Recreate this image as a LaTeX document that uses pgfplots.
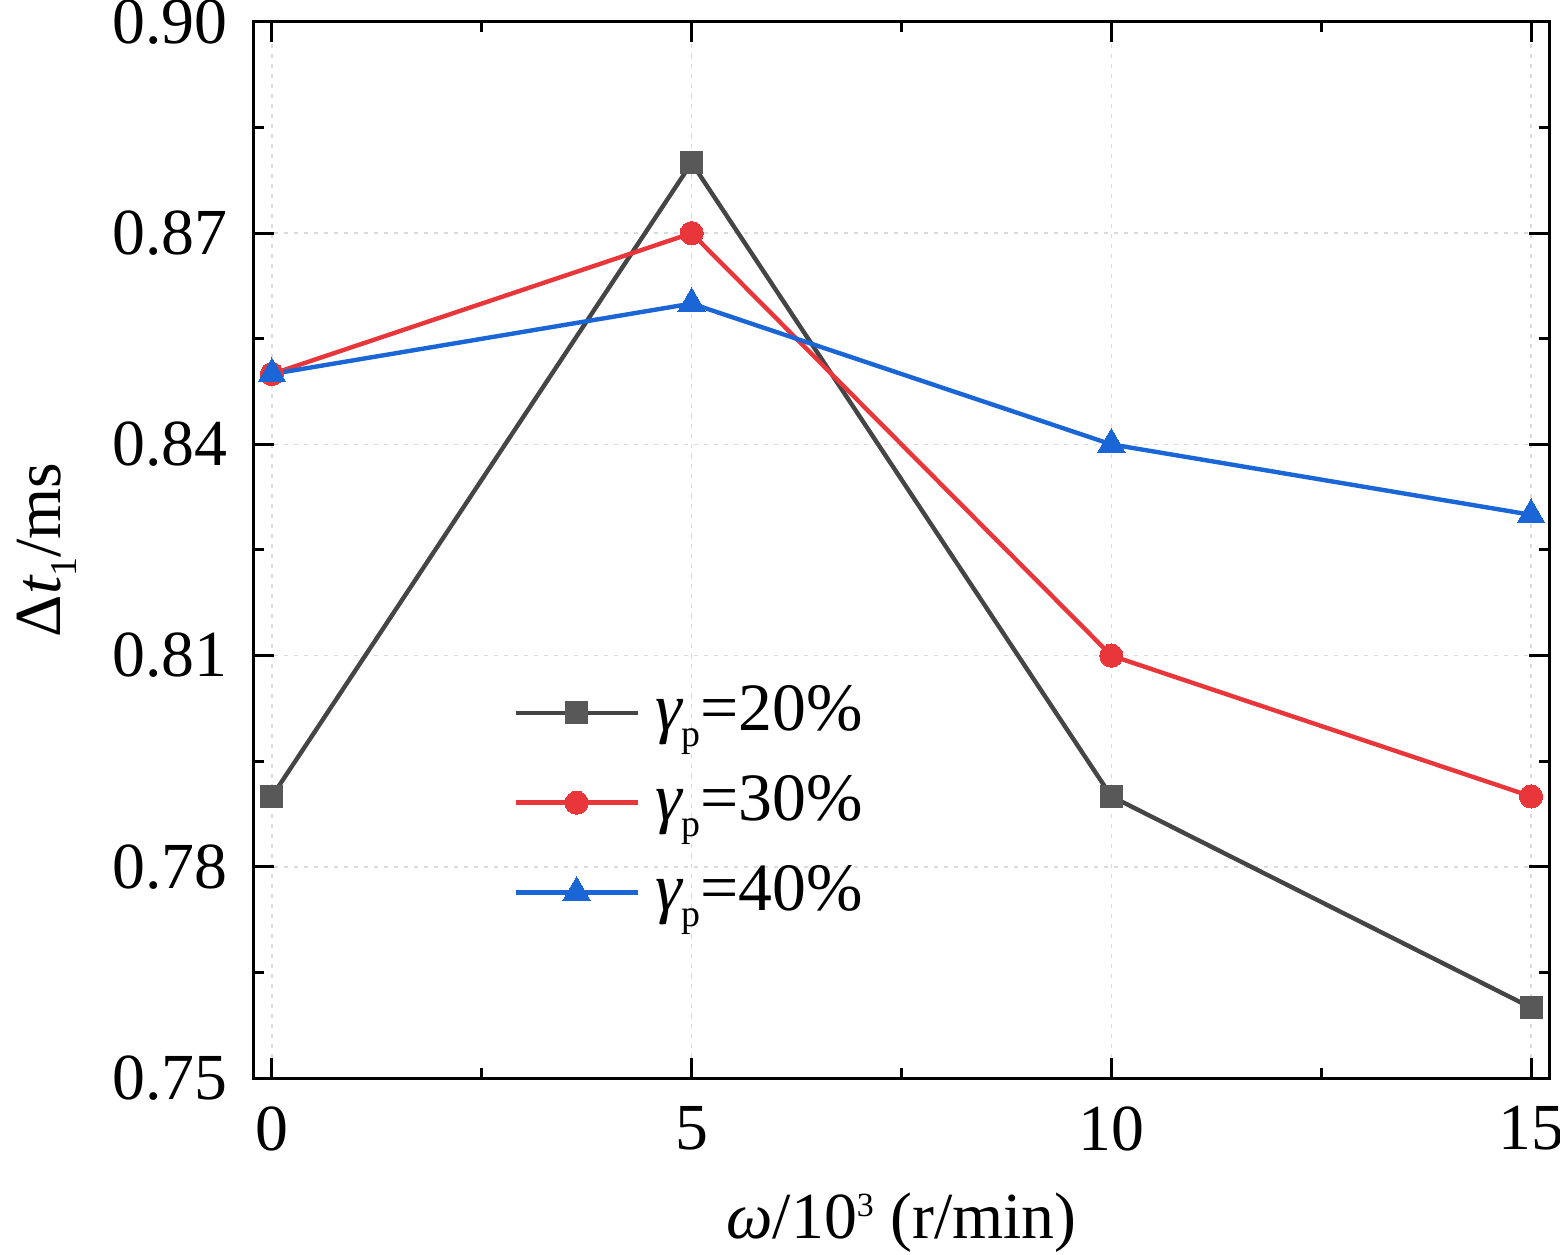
\documentclass[border=0pt]{standalone}
\usepackage{fontspec}
\setmainfont{Liberation Serif}
\usepackage{pgfplots}
\pgfplotsset{compat=1.18}
\definecolor{cgray}{HTML}{454545}
\definecolor{cred}{HTML}{E8363B}
\definecolor{cblue}{HTML}{1B66D6}
\definecolor{cgrid}{HTML}{DADADA}
\newcommand{\lsub}[1]{\raisebox{-8bp}{\fontsize{19}{20}\selectfont #1}}
\begin{document}
\fontsize{33}{40}\selectfont
\begin{tikzpicture}
\begin{axis}[
  scale only axis,
  width=647.5bp, height=528bp,
  at={(0,0)}, anchor=south west,
  xmin=-0.214, xmax=15.214,
  ymin=0.75, ymax=0.90,
  xtick={0,5,10,15},
  ytick={0.75,0.78,0.81,0.84,0.87,0.90},
  minor x tick num=1,
  minor y tick num=1,
  tick align=inside,
  major tick length=10bp,
  minor tick length=5bp,
  every tick/.style={line width=1.5bp, black},
  axis line style={line width=1.5bp, black},
  grid=major,
  major grid style={cgrid, dash pattern=on 2bp off 3bp, line width=0.8bp},
  xticklabel={\pgfmathprintnumber[assume math mode=true]{\tick}},
  yticklabel={\pgfmathprintnumber[fixed,fixed zerofill,precision=2,assume math mode=true]{\tick}},
  yticklabel style={font=\fontsize{33}{40}\selectfont, xshift=-2bp},
  xticklabel style={font=\fontsize{33}{40}\selectfont, yshift=-3bp},
  scaled y ticks=false,
  xlabel={{\itshape ω}/10\raisebox{11bp}{\fontsize{17}{18}\selectfont 3} (r/min)},
  ylabel={Δ{\itshape t}\lsub{1}/ms},
  xlabel style={font=\fontsize{33}{40}\selectfont, yshift=1bp},
  ylabel style={font=\fontsize{33}{40}\selectfont, yshift=-4bp},
  legend style={draw=none, fill=none, at={(0.2,0.376)}, anchor=north west, font=\fontsize{34}{40}\selectfont, row sep=13.5bp, inner sep=0pt},
  legend cell align=left,
  legend image code/.code={
    \draw[#1] (0cm,0cm) -- (61bp,0cm);
    \draw[#1, mark repeat=2, mark phase=2] plot coordinates {(0cm,0cm) (30.5bp,0cm) (61bp,0cm)};
  },
  clip=false,
]
\addplot[cgray, line width=2.2bp, mark=square*, mark size=5.5bp, mark options={fill=cgray!90!white, draw=cgray!90!white, line width=0pt}] coordinates {(0,0.79) (5,0.88) (10,0.79) (15,0.76)};
\addlegendentry{\,{\itshape γ}\lsub{p}=20\%}
\addplot[cred, line width=2.2bp, mark=*, mark size=5.8bp, mark options={fill=cred, draw=cred, line width=0pt}] coordinates {(0,0.85) (5,0.87) (10,0.81) (15,0.79)};
\addlegendentry{\,{\itshape γ}\lsub{p}=30\%}
\addplot[cblue, line width=2.2bp, mark=triangle*, mark size=8bp, mark options={fill=cblue, draw=cblue, line width=0pt}] coordinates {(0,0.85) (5,0.86) (10,0.84) (15,0.83)};
\addlegendentry{\,{\itshape γ}\lsub{p}=40\%}
\end{axis}
\pgfresetboundingbox
\path[use as bounding box] (-127bp,-88.5bp) rectangle (653bp,539bp);
\end{tikzpicture}
\end{document}
